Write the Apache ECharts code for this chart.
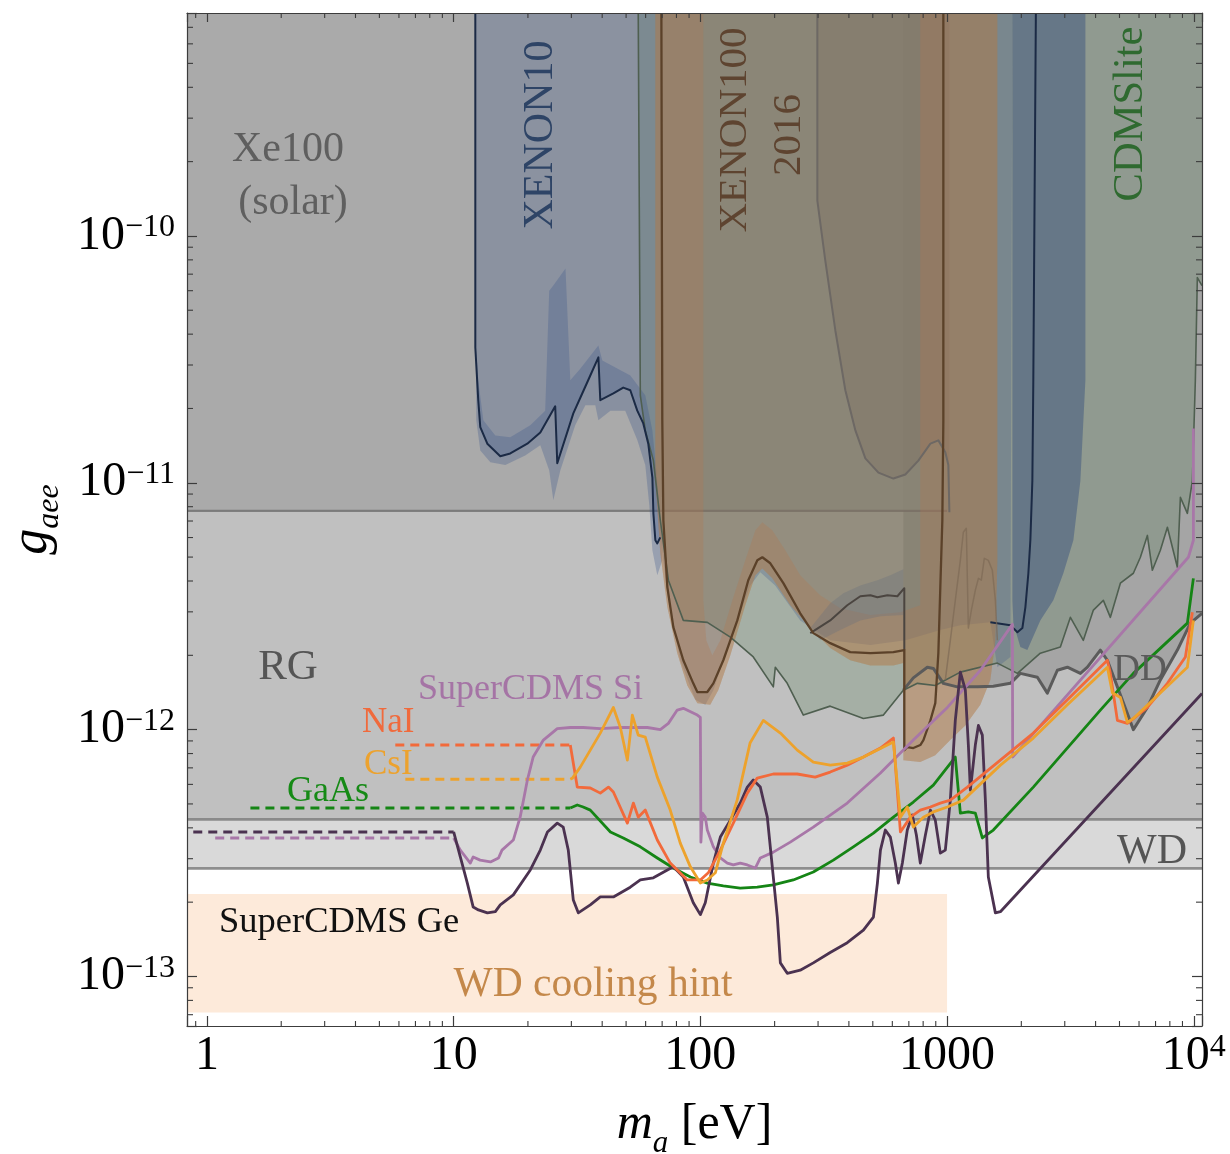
<!DOCTYPE html>
<html>
<head>
<meta charset="utf-8">
<script src="https://cdn.jsdelivr.net/npm/echarts@6/dist/echarts.min.js"></script>
<style>
  html, body { margin: 0; padding: 0; background: #ffffff; }
  #chart { width: 1230px; height: 1154px; }
</style>
</head>
<body>
<div id="chart"></div>
<script>
// Axion-electron coupling g_aee versus axion mass m_a: existing bounds and projected reach.
const SERIF = "'Liberation Serif', 'Times New Roman', 'DejaVu Serif', serif";

// axis extents
const M_MIN = 0.83, M_MAX = 10800;      // eV
const G_MIN = 6.3e-14, G_MAX = 8e-10;   // g_aee

// ---------- astrophysical bounds (horizontal) ----------
const xe100SolarBound = [[M_MIN, 7.7e-12], [1000, 7.7e-12]];
const redGiantBound   = [[M_MIN, 4.33e-13], [M_MAX, 4.33e-13]];
const whiteDwarfBound = [[M_MIN, 2.74e-13], [M_MAX, 2.74e-13]];
const wdCoolingHint   = [[M_MIN, 7.14e-14], [1000, 7.14e-14], [1000, 2.16e-13], [M_MIN, 2.16e-13]];

// ---------- direct-detection exclusions ----------
const ddBound = [[665,1.445e-12],[730,1.62e-12],[832,1.79e-12],[880,1.77e-12],[966,1.54e-12],[1101,1.49e-12],
  [1327,1.49e-12],[1540,1.50e-12],[1806,1.54e-12],[1982,1.69e-12],[2323,1.63e-12],[2550,1.405e-12],[2800,1.74e-12],
  [3074,1.79e-12],[3471,1.69e-12],[3706,1.79e-12],[4182,2.10e-12],[4465,1.91e-12],[4902,1.49e-12],[5691,1.0e-12],
  [6486,1.23e-12],[7322,1.59e-12],[8582,2.10e-12],[9690,2.70e-12],[10800,2.96e-12]];

const cdmsliteBound = [[56.0,8e-10],[57.1,2.26e-11],[59.8,1.63e-11],[64.5,1.23e-11],[68.8,7.05e-12],[74.2,4.03e-12],
  [85.3,2.77e-12],[106.7,2.72e-12],[132.3,2.37e-12],[163.9,1.97e-12],[197.6,1.49e-12],[201.3,1.79e-12],[225,1.54e-12],
  [261.5,1.145e-12],[336,1.245e-12],[458,1.11e-12],[552,1.145e-12],[665,1.445e-12],[758,1.54e-12],[896,1.51e-12],
  [1132,1.71e-12],[1599,1.86e-12],[1928,1.69e-12],[2388,2.04e-12],[2879,2.16e-12],[3162,2.85e-12],[3568,2.30e-12],
  [3919,3.05e-12],[4301,3.34e-12],[4592,2.85e-12],[5041,3.92e-12],[5691,4.30e-12],[6076,4.99e-12],[6486,6.12e-12],
  [6795,4.42e-12],[7322,5.33e-12],[7819,6.6e-12],[8582,4.55e-12],[8827,8.73e-12],[9422,7.52e-12],[9872,1.02e-11],
  [10150,2.6e-11],[10340,6.78e-11],[10800,6.29e-11]];

const xenon10Limit = [[12.24,8e-10],[12.24,3.53e-11],[12.58,2.16e-11],[12.82,1.68e-11],[13.69,1.44e-11],[15.45,1.28e-11],
  [16.96,1.315e-11],[19.89,1.44e-11],[22.45,1.60e-11],[25.8,2.04e-11],[26.3,1.20e-11],[30.55,1.91e-11],[33.2,2.30e-11],
  [35.8,2.72e-11],[38.6,3.22e-11],[39.3,2.16e-11],[44.4,2.30e-11],[48.7,2.43e-11],[52.0,2.37e-11],[55.5,1.96e-11],
  [58.7,1.74e-11],[61.5,1.44e-11],[63.9,1.05e-11],[64.5,7.52e-12],[65.7,5.85e-12],[66.9,5.68e-12],[68.8,6.01e-12],
  [74.2,3.34e-12],[82.9,1.91e-12],[95.4,1.32e-12],[104.7,1.26e-12],[112.9,1.445e-12],[132.3,2.30e-12],[159.4,3.84e-12],
  [175,4.34e-12],[201,3.84e-12],[254,2.77e-12],[336,2.30e-12],[489,2.20e-12],[678,2.30e-12],[939,2.53e-12],
  [1132,2.65e-12],[1498,2.72e-12],[1806,2.65e-12],[1928,2.48e-12],[2020,2.58e-12],[2077,3.13e-12],[2136,4.30e-12],
  [2176,5.85e-12],[2217,1.02e-11],[2237,2.60e-11],[2291,8e-10]];
const xenon10ShadeEdge = [[1599,1.79e-12],[1806,1.97e-12],[1840,8e-10]];
const xenon10BandLow = [[12.35,3.43e-11],[12.58,2.60e-11],[13.19,1.79e-11],[14.75,1.555e-11],[16.96,1.53e-11],
  [20.45,1.71e-11],[23.5,1.96e-11],[24.4,6.0e-11],[25.35,6.3e-11],[28.4,7.38e-11],[29.7,2.60e-11],[32.6,2.90e-11],
  [38.6,3.60e-11],[40.05,3.13e-11],[52.0,2.72e-11],[59.8,2.26e-11],[63.9,1.63e-11],[66.3,1.12e-11],[68.8,7.05e-12],
  [70.1,4.85e-12],[66.9,4.22e-12],[63.9,5.33e-12],[62.1,8.10e-12],[59.8,1.18e-11],[55.5,1.49e-11],[49.6,1.96e-11],
  [43.2,1.96e-11],[38.6,1.79e-11],[37.5,2.06e-11],[34.2,2.06e-11],[31.1,1.71e-11],[27.06,1.12e-11],[25.35,8.49e-12],
  [24.4,1.12e-11],[22.45,1.42e-11],[19.5,1.29e-11],[16.2,1.18e-11],[14.08,1.21e-11],[12.82,1.35e-11],[12.35,1.79e-11]];
const xenon10BandHigh = [[1840,8e-10],[3637,8e-10],[3637,2.6e-11],[3471,1.02e-11],[3251,5.85e-12],[2961,4.30e-12],
  [2697,3.34e-12],[2388,2.77e-12],[2116,2.10e-12],[1982,2.16e-12],[1857,2.70e-12],[1840,3.34e-12]];

const xenon100Outer = [[65.7,8e-10],[65.7,1.04e-11],[68.8,5.18e-12],[73.5,3.13e-12],[80.6,2.04e-12],[88.5,1.51e-12],
  [97.2,1.28e-12],[109.7,1.26e-12],[118.2,1.445e-12],[132.3,2.0e-12],[152.1,3.19e-12],[167.1,4.22e-12],[178.3,4.50e-12],
  [195.7,4.10e-12],[231.5,3.19e-12],[279,2.58e-12],[336,2.14e-12],[405,1.91e-12],[489,1.82e-12],[606,1.82e-12],
  [665,1.86e-12],[665,7.52e-13],[779,7.39e-13],[896,7.88e-13],[1031,9.07e-13],[1186,1.04e-12],[1365,1.26e-12],
  [1498,1.59e-12],[1570,2.30e-12],[1599,4.85e-12],[1599,8e-10]];
const xenon100Inner = [[102.8,8e-10],[102.8,3.34e-12],[105.7,2.30e-12],[111.8,2.0e-12],[120.5,2.30e-12],[134.8,3.34e-12],
  [152.1,4.85e-12],[167.1,6.42e-12],[178.3,6.92e-12],[195.7,6.42e-12],[221,5.33e-12],[254,4.22e-12],[306,3.50e-12],
  [369,3.10e-12],[489,2.91e-12],[647,2.99e-12],[779,3.19e-12],[779,8e-10]];
const xenon100Limit = [[69.5,8e-10],[70.1,1.79e-11],[70.8,7.05e-12],[73.5,3.77e-12],[77.7,2.60e-12],[85.3,1.91e-12],
  [93.6,1.54e-12],[97.2,1.42e-12],[106.7,1.42e-12],[112.9,1.54e-12],[123.9,1.91e-12],[141.2,2.77e-12],[156.4,4.03e-12],
  [170.2,4.85e-12],[178.3,4.99e-12],[192.1,4.72e-12],[217,3.92e-12],[254,2.96e-12],[287,2.46e-12],[336,2.24e-12],
  [405,2.06e-12],[489,2.04e-12],[606,2.06e-12],[671,2.10e-12],[671,8.26e-13],[690,8.50e-13],[730,8.42e-13],
  [779,8.66e-13],[802,9.07e-13],[856,1.09e-12],[896,1.28e-12],[922,2.04e-12],[939,3.77e-12],[957,7.05e-12],
  [966,1.79e-11],[966,8e-10]];
const xenon100Spiky = [[984,1.59e-12],[1031,2.30e-12],[1080,3.34e-12],[1132,4.85e-12],[1164,6.30e-12],[1197,6.54e-12],
  [1220,2.58e-12],[1255,3.05e-12],[1302,3.67e-12],[1340,4.10e-12],[1377,4.03e-12],[1416,4.94e-12],[1470,4.85e-12],
  [1526,4.42e-12],[1570,3.34e-12],[1599,2.30e-12]];
const greyBand = [[279,2.58e-12],[336,3.25e-12],[380,3.57e-12],[445,3.84e-12],[522,4.03e-12],[589,4.22e-12],
  [665,4.46e-12],[665,2.91e-12],[537,2.88e-12],[445,2.77e-12],[369,2.53e-12],[306,2.30e-12]];
const greyBandLine = [[279,2.46e-12],[336,2.77e-12],[394,3.19e-12],[445,3.47e-12],[489,3.50e-12],[522,3.44e-12],
  [573,3.50e-12],[629,3.47e-12],[671,3.74e-12],[671,2.10e-12]];
const darkRegion = [[298,8e-10],[298,1.39e-10],[321,7.94e-11],[352.5,4.14e-11],[387,2.37e-11],[425,1.63e-11],
  [466.5,1.255e-11],[527,1.10e-11],[606,1.04e-11],[677.5,1.08e-11],[765,1.23e-11],[856,1.44e-11],[922,1.485e-11],
  [984,1.33e-11],[1012,1.18e-11],[1022,7.59e-12],[1022,8e-10]];

// ---------- projected sensitivities ----------
const supercdmsGe = [[10.0,3.85e-13],[10.64,3.05e-13],[11.36,2.39e-13],[12.0,1.91e-13],[12.6,1.86e-13],[13.7,1.81e-13],
  [14.75,1.83e-13],[15.45,1.95e-13],[17.45,2.14e-13],[20.45,2.70e-13],[22.45,3.25e-13],[24.0,3.85e-13],[26.3,4.18e-13],
  [27.8,4.03e-13],[29.15,3.25e-13],[30.55,2.04e-13],[32.0,1.81e-13],[35.8,1.95e-13],[39.3,2.10e-13],[44.4,2.10e-13],
  [52.0,2.30e-13],[57.1,2.46e-13],[64.5,2.51e-13],[73.5,2.70e-13],[77.7,2.78e-13],[85.3,2.53e-13],[93.6,1.99e-13],
  [100,1.78e-13],[104.7,1.99e-13],[112.9,2.88e-13],[120.5,3.67e-13],[132.3,4.30e-13],[145.2,5.04e-13],[155,5.85e-13],
  [163.9,6.25e-13],[175,5.85e-13],[186.8,4.42e-13],[195.7,2.78e-13],[205.1,1.74e-13],[211,1.135e-13],[225,1.03e-13],
  [254,1.06e-13],[287,1.135e-13],[336,1.25e-13],[394,1.37e-13],[458,1.54e-13],[503,1.74e-13],[522,2.39e-13],
  [537,3.25e-13],[562,3.92e-13],[589,3.67e-13],[617,2.88e-13],[635,2.39e-13],[659,2.88e-13],[690,3.92e-13],
  [723,4.51e-13],[751,3.74e-13],[779,2.88e-13],[817,3.74e-13],[856,4.72e-13],[896,4.30e-13],[939,3.16e-13],
  [984,3.25e-13],[1031,5.18e-13],[1080,1.09e-12],[1132,1.71e-12],[1186,1.45e-12],[1220,8.66e-13],[1243,5.69e-13],
  [1302,8.66e-13],[1340,1.04e-12],[1390,9.50e-13],[1430,5.18e-13],[1470,2.53e-13],[1570,1.81e-13],[1645,1.83e-13],
  [10800,1.4e-12]];
const supercdmsSi = [[10.0,3.64e-13],[10.64,3.25e-13],[11.68,2.88e-13],[12.0,3.05e-13],[12.8,2.96e-13],[14.1,2.91e-13],
  [15.2,3.02e-13],[15.7,3.25e-13],[17.45,3.57e-13],[18.6,4.42e-13],[19.9,6.25e-13],[21.0,7.74e-13],[23.1,9.07e-13],
  [26.3,1.01e-12],[29.7,1.02e-12],[33.5,1.02e-12],[39.3,1.01e-12],[47.4,1.02e-12],[61,1.02e-12],[68.8,1.0e-12],
  [74.2,1.06e-12],[80.6,1.20e-12],[85.3,1.22e-12],[97.2,1.145e-12],[100,1.12e-12],[100.5,3.50e-13],[101.9,4.59e-13],
  [104.7,4.42e-13],[106.7,3.92e-13],[112.9,3.35e-13],[120.5,3.02e-13],[128.6,2.88e-13],[136,2.83e-13],[145.2,2.88e-13],
  [155,2.83e-13],[167,2.75e-13],[175,3.02e-13],[197.6,3.19e-13],[231.5,3.50e-13],[287,4.03e-13],[394,5.04e-13],
  [537,6.67e-13],[730,9.07e-13],[1003,1.23e-12],[1365,1.74e-12],[1840,2.67e-12],[1845,7.74e-13],[9511,4.99e-12],
  [9966,5.85e-12],[9966,1.66e-11]];
const naI = [[29.7,8.66e-13],[31.7,5.85e-13],[35.8,5.80e-13],[39.3,5.53e-13],[42.4,5.85e-13],[44.4,5.59e-13],
  [50.6,4.18e-13],[53.5,5.04e-13],[56.0,4.42e-13],[59.8,4.72e-13],[66.9,3.57e-13],[75.5,2.88e-13],[88.5,2.46e-13],
  [100,2.46e-13],[107.7,2.63e-13],[120.5,3.25e-13],[136,4.18e-13],[155,5.53e-13],[170,6.36e-13],[197.6,6.61e-13],
  [247,6.61e-13],[292,6.42e-13],[336,6.73e-13],[394,7.18e-13],[458,7.74e-13],[537,8.42e-13],[606,9.24e-13],
  [647,3.85e-13],[710,4.42e-13],[779,4.72e-13],[856,4.86e-13],[939,5.04e-13],[1031,5.18e-13],[1209,5.85e-13],
  [1645,7.52e-13],[2237,9.68e-13],[3074,1.32e-12],[4465,1.91e-12],[4592,1.69e-12],[4902,1.09e-12],[5381,1.06e-12],
  [6486,1.23e-12],[7819,1.54e-12],[9250,1.97e-12],[9872,2.99e-12]];
const csI = [[29.7,6.30e-13],[30.3,6.36e-13],[32.6,7.05e-13],[39.3,9.68e-13],[44.4,1.23e-12],[47.4,1.02e-12],
  [50.6,7.52e-13],[53.0,1.145e-12],[56.0,9.50e-13],[59.8,9.32e-13],[66.9,6.42e-13],[75.5,4.72e-13],[82.9,3.47e-13],
  [91.1,2.78e-13],[100,2.39e-13],[106.7,2.46e-13],[115,2.63e-13],[123.9,3.47e-13],[141,5.18e-13],[159,8.82e-13],
  [180,1.09e-12],[211,9.68e-13],[247,8.26e-13],[287,7.39e-13],[336,7.18e-13],[394,7.32e-13],[458,7.74e-13],
  [606,8.90e-13],[647,4.42e-13],[690,4.86e-13],[730,4.03e-13],[802,4.42e-13],[880,4.64e-13],[1003,4.86e-13],
  [1164,5.18e-13],[1645,7.18e-13],[2237,9.24e-13],[3074,1.26e-12],[4465,1.79e-12],[4679,1.41e-12],[5041,1.35e-12],
  [5381,1.07e-12],[5691,1.11e-12],[9422,1.79e-12],[9966,2.77e-12]];
const gaAs = [[29.7,4.81e-13],[31.7,4.95e-13],[33.5,4.86e-13],[35.8,4.72e-13],[43.2,3.85e-13],[48.7,3.64e-13],
  [57.1,3.35e-13],[66.9,3.02e-13],[77.7,2.75e-13],[91.1,2.53e-13],[106.7,2.39e-13],[123.9,2.33e-13],[145,2.28e-13],
  [170,2.30e-13],[197.6,2.35e-13],[238,2.46e-13],[287,2.65e-13],[346,2.96e-13],[417,3.35e-13],[503,3.81e-13],
  [606,4.42e-13],[730,5.09e-13],[880,5.96e-13],[1080,7.74e-13],[1132,4.59e-13],[1220,4.64e-13],[1302,4.59e-13],
  [1390,3.64e-13],[1540,3.92e-13],[2237,5.85e-13],[4182,1.20e-12],[5691,1.69e-12],[9422,2.70e-12],[9966,4.10e-12]];

// low-mass extensions (dashed)
const supercdmsGeLow = [[0.88,3.85e-13],[10.0,3.85e-13]];
const supercdmsSiLow = [[1.08,3.64e-13],[10.0,3.64e-13]];
const naILow  = [[5.8,8.66e-13],[29.7,8.66e-13]];
const csILow  = [[6.37,6.30e-13],[29.7,6.30e-13]];
const gaAsLow = [[1.5,4.81e-13],[29.7,4.81e-13]];

// ---------- helpers ----------
function toTop(bound) {
  return bound.concat([[bound[bound.length - 1][0], G_MAX], [bound[0][0], G_MAX]]);
}
function area(name, points, fill, z) {
  return {
    name, type: 'custom', coordinateSystem: 'cartesian2d', z, silent: true, clip: true,
    data: [points[0]],
    renderItem: (params, api) => ({
      type: 'polygon',
      shape: { points: points.map(p => api.coord(p)) },
      style: { fill: fill }
    })
  };
}
function curve(name, data, color, width, z, dash) {
  return {
    name, type: 'line', data, z, silent: true, showSymbol: false, symbol: 'none', clip: true,
    lineStyle: { color, width, type: dash || 'solid', cap: 'butt', join: 'round' }
  };
}

const xenon10Shade = xenon10Limit.filter(p => p[0] <= 1500).concat(xenon10ShadeEdge);
// the XENON10 edge is drawn where it is not buried under XENON100
const xenon10EdgeLow = xenon10Limit.filter(p => p[0] <= 69);
const xenon10EdgeHigh = xenon10Limit.filter(p => p[0] >= 1490);
const xenon100Band = xenon100Outer.concat(xenon100Inner.slice().reverse());

// minor tick positions (2..9 in each decade)
const xMinor = [], yMinor = [];
for (let e = -1; e <= 4; e++) for (let k = 2; k <= 9; k++) {
  const v = k * Math.pow(10, e); if (v > M_MIN && v < M_MAX) xMinor.push(v);
}
for (let e = -14; e <= -9; e++) for (let k = 2; k <= 9; k++) {
  const v = k * Math.pow(10, e); if (v > G_MIN && v < G_MAX) yMinor.push(v);
}

function pow10(v) {
  const e = Math.round(Math.log10(v));
  return Math.abs(v / Math.pow(10, e) - 1) < 1e-6 ? e : null;
}

const tickRich = {
  b: { fontFamily: SERIF, fontSize: 48, lineHeight: 48, padding: [8, 0, 0, 0], verticalAlign: 'bottom', color: '#000' },
  s: { fontFamily: SERIF, fontSize: 32, lineHeight: 32, verticalAlign: 'top', color: '#000' }
};

const frameColor = '#3c3c3c';
function logAxis(extra) {
  return Object.assign({
    type: 'log', logBase: 10, z: 50, silent: true,
    splitLine: { show: false },
    axisLine: { show: true, lineStyle: { color: frameColor, width: 1.2 } },
    axisTick: { show: true, inside: true, length: 10, lineStyle: { color: frameColor, width: 1.2 } },
    axisPointer: { show: false }
  }, extra);
}

const option = {
  animation: false,
  backgroundColor: '#ffffff',
  grid: { left: 187, right: 28, top: 13, bottom: 128, containLabel: false, outerBoundsMode: 'none' },
  xAxis: [
    logAxis({
      position: 'bottom', min: M_MIN, max: M_MAX,
      axisLabel: {
        margin: 6,
        formatter: v => { const e = pow10(v); if (e === null) return ''; return e >= 4 ? '{b|10}{s|' + e + '}' : '{b|' + Math.round(v) + '}'; },
        rich: tickRich
      },
      name: '{m|m}{a|a}{n| [eV]}', nameLocation: 'middle', nameGap: 74,
      nameTextStyle: {
        rich: {
          m: { fontFamily: SERIF, fontStyle: 'italic', fontSize: 50, lineHeight: 50, verticalAlign: 'top', color: '#000' },
          a: { fontFamily: SERIF, fontStyle: 'italic', fontSize: 31, lineHeight: 24, padding: [28, 0, 0, 0], verticalAlign: 'top', color: '#000' },
          n: { fontFamily: SERIF, fontSize: 50, lineHeight: 50, verticalAlign: 'top', color: '#000' }
        }
      }
    }),
    logAxis({ position: 'top', min: M_MIN, max: M_MAX, axisLabel: { show: false }, axisTick: { show: true, inside: true, length: 9, lineStyle: { color: frameColor, width: 1.2 } } })
  ],
  yAxis: [
    logAxis({
      position: 'left', min: G_MIN, max: G_MAX,
      axisLabel: {
        margin: 12,
        formatter: v => { const e = pow10(v); if (e === null) return ''; return '{b|10}{s|\u2212' + Math.abs(e) + '}'; },
        rich: tickRich
      },
      name: '{g|g}{s|aee}', nameLocation: 'middle', nameRotate: 90, nameGap: 131,
      nameTextStyle: {
        rich: {
          g: { fontFamily: SERIF, fontStyle: 'italic', fontSize: 52, lineHeight: 50, verticalAlign: 'top', color: '#000' },
          s: { fontFamily: SERIF, fontStyle: 'italic', fontSize: 32, lineHeight: 24, padding: [28, 0, 0, 0], verticalAlign: 'top', color: '#000' }
        }
      }
    }),
    logAxis({ position: 'right', min: G_MIN, max: G_MAX, axisLabel: { show: false } })
  ],
  series: [
    // astrophysical shading
    area('WD', toTop(whiteDwarfBound), '#d9d9d9', 1),
    area('RG', toTop(redGiantBound), '#c0c0c0', 1.1),
    area('Xe100 solar', toTop(xe100SolarBound), '#aaaaaa', 1.2),
    area('WD cooling hint', wdCoolingHint, '#fdeada', 1.3),
    curve('WD edge', whiteDwarfBound, '#8e8e8e', 2.6, 2),
    curve('RG edge', redGiantBound, '#8a8a8a', 2.6, 2),
    // direct detection
    area('DD', toTop(ddBound), '#a5a5a5', 3),
    area('CDMSlite', cdmsliteBound.concat([[M_MAX, G_MAX]]), 'rgba(60,110,60,0.2)', 3.1),
    curve('Xe100 solar edge', xe100SolarBound, 'rgba(105,105,105,0.75)', 2.2, 3.2),
    area('XENON10', xenon10Shade, 'rgba(70,92,140,0.3)', 3.3),
    area('XENON10 band', xenon10BandLow, 'rgba(60,85,140,0.3)', 3.4),
    area('XENON10 band high', xenon10BandHigh, 'rgba(50,78,125,0.45)', 3.4),
    area('dark region', darkRegion, 'rgba(90,80,90,0.2)', 3.5),
    area('XENON100', xenon100Outer, 'rgba(175,125,60,0.3)', 3.6),
    area('XENON100 band', xenon100Band, 'rgba(180,120,80,0.3)', 3.7),
    area('grey band', greyBand, 'rgba(100,110,125,0.3)', 3.8),
    curve('dark region edge', darkRegion.slice(0, -1), '#6d6864', 2, 4),
    curve('DD edge', ddBound, '#5b5b5b', 3, 4.1),
    curve('CDMSlite edge', cdmsliteBound, '#4f5f50', 1.6, 4.2),
    curve('XENON10 edge', xenon10EdgeLow, '#1b2a45', 2, 4.3),
    curve('XENON10 edge high', xenon10EdgeHigh, '#1b2a45', 2, 4.3),
    curve('XENON100 spiky', xenon100Spiky, 'rgba(125,105,85,0.7)', 1.5, 4.3),
    curve('grey band edge', greyBandLine, '#4b4540', 2, 4.4),
    curve('XENON100 edge', xenon100Limit, '#5b4129', 2.3, 4.5),
    // projections
    curve('SuperCDMS Ge low', supercdmsGeLow, '#4b3250', 3, 5, [9, 6]),
    curve('SuperCDMS Si low', supercdmsSiLow, '#a877a8', 3, 5, [9, 6]),
    curve('GaAs low', gaAsLow, '#158515', 3, 5, [9, 6]),
    curve('NaI low', naILow, '#f26a3b', 3, 5, [9, 6]),
    curve('CsI low', csILow, '#eda22c', 3, 5, [9, 6]),
    curve('SuperCDMS Si', supercdmsSi, '#a877a8', 2.8, 5.1),
    curve('GaAs', gaAs, '#158515', 2.8, 5.2),
    curve('SuperCDMS Ge', supercdmsGe, '#4b3250', 2.8, 5.3),
    curve('NaI', naI, '#f26a3b', 2.8, 5.4),
    curve('CsI', csI, '#eda22c', 2.8, 5.5),
    // frame minor ticks
    {
      name: 'minor ticks', type: 'custom', coordinateSystem: 'cartesian2d', z: 51, silent: true, clip: false,
      data: [[1, 1e-12]],
      renderItem: (params, api) => {
        const bl = api.coord([M_MIN, G_MIN]), tr = api.coord([M_MAX, G_MAX]);
        const style = { stroke: frameColor, lineWidth: 1.1 };
        const kids = [];
        xMinor.forEach(v => {
          const x = api.coord([v, G_MIN])[0];
          kids.push({ type: 'line', shape: { x1: x, y1: bl[1], x2: x, y2: bl[1] - 5 }, style });
          kids.push({ type: 'line', shape: { x1: x, y1: tr[1], x2: x, y2: tr[1] + 5 }, style });
        });
        yMinor.forEach(v => {
          const y = api.coord([M_MIN, v])[1];
          kids.push({ type: 'line', shape: { x1: bl[0], y1: y, x2: bl[0] + 6, y2: y }, style });
          kids.push({ type: 'line', shape: { x1: tr[0], y1: y, x2: tr[0] - 6, y2: y }, style });
        });
        return { type: 'group', children: kids };
      }
    }
  ]
};

// in-plot annotations
const labels = [
  { text: 'Xe100', x: 288, y: 150, size: 42, color: '#5f5f5f' },
  { text: '(solar)', x: 293, y: 203, size: 42, color: '#5f5f5f' },
  { text: 'RG', x: 288, y: 668, size: 43, color: '#555555' },
  { text: 'WD', x: 1152, y: 852, size: 42, color: '#555555' },
  { text: 'DD', x: 1140, y: 670, size: 37, color: '#5a5a5a' },
  { text: 'SuperCDMS Si', x: 418, y: 690, size: 36, color: '#a574a5', align: 'left' },
  { text: 'NaI', x: 362, y: 723, size: 35, color: '#f06a3c', align: 'left' },
  { text: 'CsI', x: 364, y: 765, size: 35, color: '#eca22e', align: 'left' },
  { text: 'GaAs', x: 287, y: 792, size: 36, color: '#168a16', align: 'left' },
  { text: 'SuperCDMS Ge', x: 219, y: 922, size: 36.5, color: '#111111', align: 'left' },
  { text: 'WD cooling hint', x: 593, y: 985, size: 41.5, color: '#c4884a' },
  { text: 'XENON10', x: 541, y: 135, size: 42, color: '#2e4466', rot: true },
  { text: 'XENON100', x: 735, y: 130, size: 41, color: '#5e4430', rot: true },
  { text: '2016', x: 789, y: 135, size: 41, color: '#5e4430', rot: true },
  { text: 'CDMSlite', x: 1131, y: 114, size: 42.5, color: '#2f6a30', rot: true }
];
option.graphic = labels.map(l => ({
  type: 'text', x: l.x, y: l.y, rotation: l.rot ? Math.PI / 2 : 0, z: 100, silent: true,
  style: {
    text: l.text, fill: l.color, font: l.size + 'px ' + SERIF,
    align: l.align || 'center', verticalAlign: 'middle',
    textAlign: l.align || 'center', textVerticalAlign: 'middle'
  }
}));

const chart = echarts.init(document.getElementById('chart'), null, { renderer: 'canvas' });
chart.setOption(option);
</script>
</body>
</html>
